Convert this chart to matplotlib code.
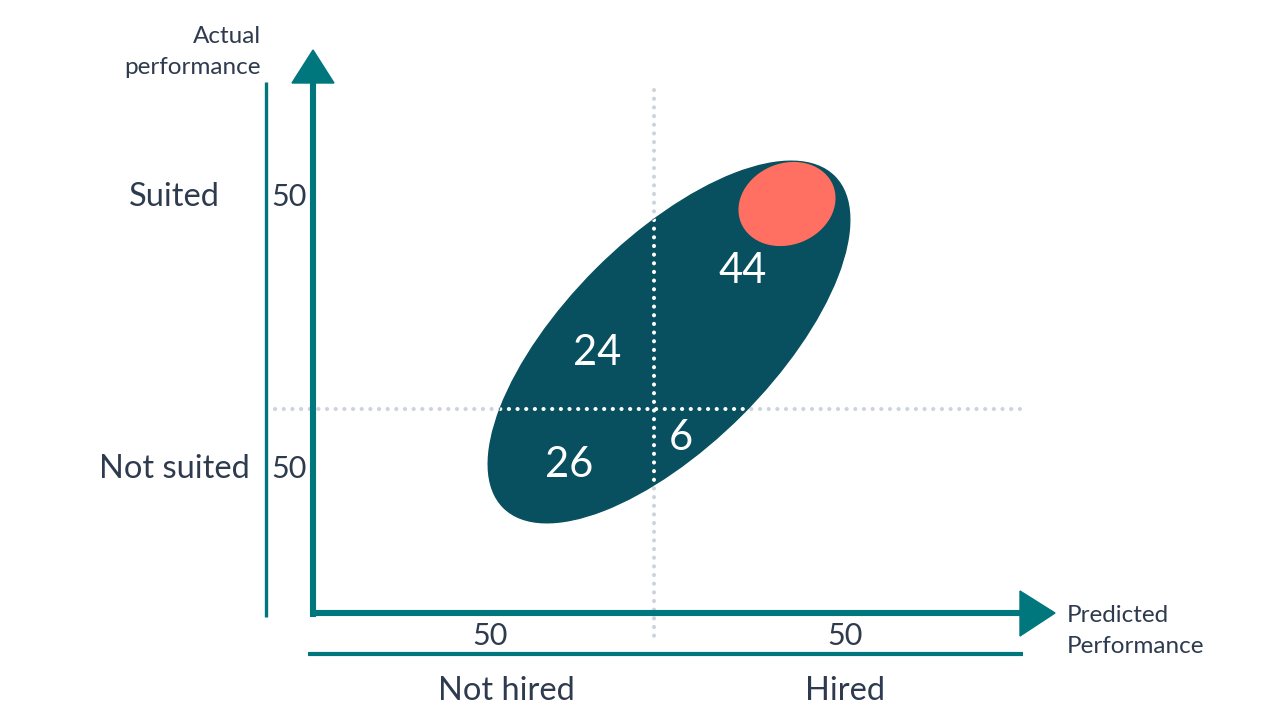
import matplotlib
matplotlib.use("Agg")
import matplotlib.pyplot as plt
from matplotlib.patches import Ellipse, Polygon

# ---------------- data ----------------
quadrant_names = ["Not hired / Suited", "Hired / Suited", "Not hired / Not suited", "Hired / Not suited"]
quadrant_counts = [24, 44, 26, 6]
row_labels = ["Suited", "Not suited"]
row_totals = [50, 50]
col_labels = ["Not hired", "Hired"]
col_totals = [50, 50]
y_axis_title = "Actual\nperformance"
x_axis_title = "Predicted\nPerformance"

# ---------------- style ----------------
TEAL = "#00767d"
DARK = "#08505f"
CORAL = "#ff7062"
TEXT = "#2e3a4d"
GRID = "#cdd3dd"
FONT = ["Lato", "DejaVu Sans"]
plt.rcParams["font.family"] = FONT

fig = plt.figure(figsize=(12.8, 7.2), dpi=100)
ax = fig.add_axes([0, 0, 1, 1])
ax.set_xlim(0, 1280)
ax.set_ylim(720, 0)
ax.set_aspect("equal")
ax.axis("off")

# layout (pixel space)
x_split, y_split = 654, 409
dot = dict(lw=2.9, dashes=(0.05, 2.1), dash_capstyle="round")

# gray dotted split lines
ax.plot([x_split, x_split], [90, 642], color=GRID, zorder=1, **dot)
ax.plot([275, 1026], [y_split, y_split], color=GRID, zorder=1, **dot)

# main distribution ellipse
blob = Ellipse((669, 342), width=468, height=206, angle=-45, color=DARK, zorder=2)
ax.add_patch(blob)

# white dotted lines inside ellipse
l1, = ax.plot([x_split, x_split], [90, 642], color="white", zorder=3, **dot)
l2, = ax.plot([275, 1026], [y_split, y_split], color="white", zorder=3, **dot)
l1.set_clip_path(blob)
l2.set_clip_path(blob)

# coral top talent ellipse
ax.add_patch(Ellipse((787, 204), width=98, height=80, angle=-22, color=CORAL, zorder=4))

# quadrant counts
q_pos = [(597, 353), (743, 271), (569, 465), (681, 438)]
for (x, y), v in zip(q_pos, quadrant_counts):
    ax.text(x, y, str(v), color="white", fontsize=30, ha="center", va="center", zorder=5)

# axes arrows
ax.plot([313, 313], [617, 80], color=TEAL, lw=4.4, solid_capstyle="butt", zorder=3)
ax.add_patch(Polygon([(292, 83), (334, 83), (313, 50)], closed=True, color=TEAL, zorder=3))
ax.plot([310, 1024], [613, 613], color=TEAL, lw=4.4, solid_capstyle="butt", zorder=3)
ax.add_patch(Polygon([(1020, 591), (1020, 636), (1055, 613)], closed=True, color=TEAL, zorder=3))

# margin lines
ax.plot([266, 266], [82, 617], color=TEAL, lw=2.4, solid_capstyle="butt")
ax.plot([308, 1023], [654, 654], color=TEAL, lw=3.0, solid_capstyle="butt")

# row labels & totals
for y, lab, tot in zip([197, 469], row_labels, row_totals):
    ax.text(174, y, lab, color=TEXT, fontsize=23.5, ha="center", va="center")
    ax.text(289, y, str(tot), color=TEXT, fontsize=22, ha="center", va="center")

# column labels & totals
for x_t, x_l, lab, tot in zip([490, 845], [506, 845], col_labels, col_totals):
    ax.text(x_t, 636, str(tot), color=TEXT, fontsize=22, ha="center", va="center")
    ax.text(x_l, 691, lab, color=TEXT, fontsize=23.5, ha="center", va="center")

# axis titles
ax.text(261, 52, y_axis_title, color=TEXT, fontsize=17.5, ha="right", va="center",
        linespacing=1.55, multialignment="right")
ax.text(1067, 631, x_axis_title, color=TEXT, fontsize=17.5, ha="left", va="center",
        linespacing=1.55)

fig.savefig("out.png", dpi=100, facecolor="white")
